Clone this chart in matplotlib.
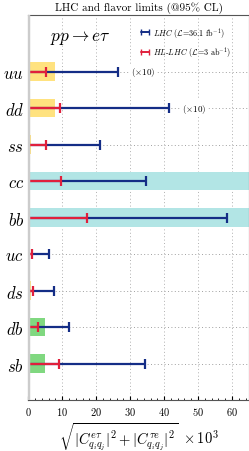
import numpy as np
import matplotlib
matplotlib.use("Agg")
import matplotlib.pyplot as plt

plt.rcParams['mathtext.fontset'] = 'cm'
plt.rcParams['font.family'] = 'cmr10'
plt.rcParams['axes.formatter.use_mathtext'] = True

# data
labels = ['uu', 'dd', 'ss', 'cc', 'bb', 'uc', 'ds', 'db', 'sb']
lhc = [26.3, 41.3, 21.0, 34.6, 58.5, 6.0, 7.7, 12.0, 34.4]
hllhc = [5.2, 9.4, 5.2, 9.6, 17.2, 1.1, 1.5, 2.8, 9.0]
flavor = [7.9, 7.9, 0.7, 65.0, 65.0, 0.0, 0.7, 4.9, 4.9]
flavor_kind = ['y', 'y', 'y', 'c', 'c', 'y', 'y', 'g', 'g']
scaled = [r'($\times$10)', r'($\times$10)', '', '', '', '', '', '', '']

box_colors = {'y': '#ffe27f', 'c': '#b2e5e5', 'g': '#80d880'}
blue = '#142d86'
red = '#e0203c'

fig = plt.figure(figsize=(2.49, 4.52), dpi=100)
ax = fig.add_axes([0.1135, 0.1128, 0.8865, 0.8518])

ypos = np.arange(len(labels))[::-1]

for y, v, w, k, s in zip(ypos, lhc, hllhc, flavor, flavor_kind):
    ax.hlines(y, 0, 65, colors='#a0a0a0', linestyles=(0, (1, 2.5)), lw=0.7, zorder=1)
    if k > 0:
        ax.barh(y, k, height=0.5, left=0, color=box_colors[s], zorder=2)
    ax.hlines(y, 0, v, colors=blue, lw=1.6, zorder=3)
    ax.plot(v, y, marker='|', ms=7, mew=1.6, color=blue, zorder=3)
    ax.hlines(y, 0, w, colors=red, lw=1.6, zorder=4)
    ax.plot(w, y, marker='|', ms=7, mew=1.6, color=red, zorder=4)

for y, v, t in zip(ypos, lhc, scaled):
    if t:
        ax.text(v + 4, y, t, fontsize=6.5, va='center', ha='left', zorder=5,
                bbox=dict(facecolor='white', edgecolor='none', pad=1))

for xv in range(10, 70, 10):
    ax.axvline(xv, color='#b0b0b0', ls=(0, (1, 2.5)), lw=0.7, zorder=0)
ax.axvline(0, color='#cccccc', lw=2.5, zorder=5)

ax.set_xlim(0, 65)
ax.set_ylim(-1, 9.55)
ax.set_yticks(ypos)
ax.set_yticklabels(['$' + l + '$' for l in labels], fontsize=12)
ax.set_xticks(range(0, 70, 10))
ax.set_xticks(range(0, 66, 2), minor=True)
ax.tick_params(axis='x', direction='in', labelsize=7.5, length=3, top=False)
ax.tick_params(axis='x', which='minor', direction='in', length=1.5)
ax.tick_params(axis='y', length=0, pad=3)
for sp in ax.spines.values():
    sp.set_color('#555555')
    sp.set_linewidth(0.8)

ax.set_title('LHC and flavor limits (@95% CL)', fontsize=8, pad=4)
ax.set_xlabel(r'$\sqrt{|C^{e\tau}_{q_iq_j}|^2+|C^{\tau e}_{q_iq_j}|^2}\ \times 10^3$',
              fontsize=10.5, labelpad=2)

ax.text(6.5, 8.95, r'$pp \rightarrow e\tau$', fontsize=12.5, ha='left', va='center')

h1 = ax.errorbar([np.nan], [np.nan], xerr=[1], color=blue, capsize=2, lw=1.2,
                 label=r'$\mathit{LHC}$ ($\mathcal{L}$=36.1 fb$^{-1}$)')
h2 = ax.errorbar([np.nan], [np.nan], xerr=[1], color=red, capsize=2, lw=1.2,
                 label=r'$\mathit{HL}$-$\mathit{LHC}$ ($\mathcal{L}$=3 ab$^{-1}$)')
ax.legend(handles=[h1, h2], loc='upper left', fontsize=5.8, frameon=False,
          handlelength=1.0, handletextpad=0.5, borderaxespad=0, borderpad=0,
          labelspacing=0.6, bbox_to_anchor=(0.51, 0.975))

fig.savefig('out.png', dpi=100)
